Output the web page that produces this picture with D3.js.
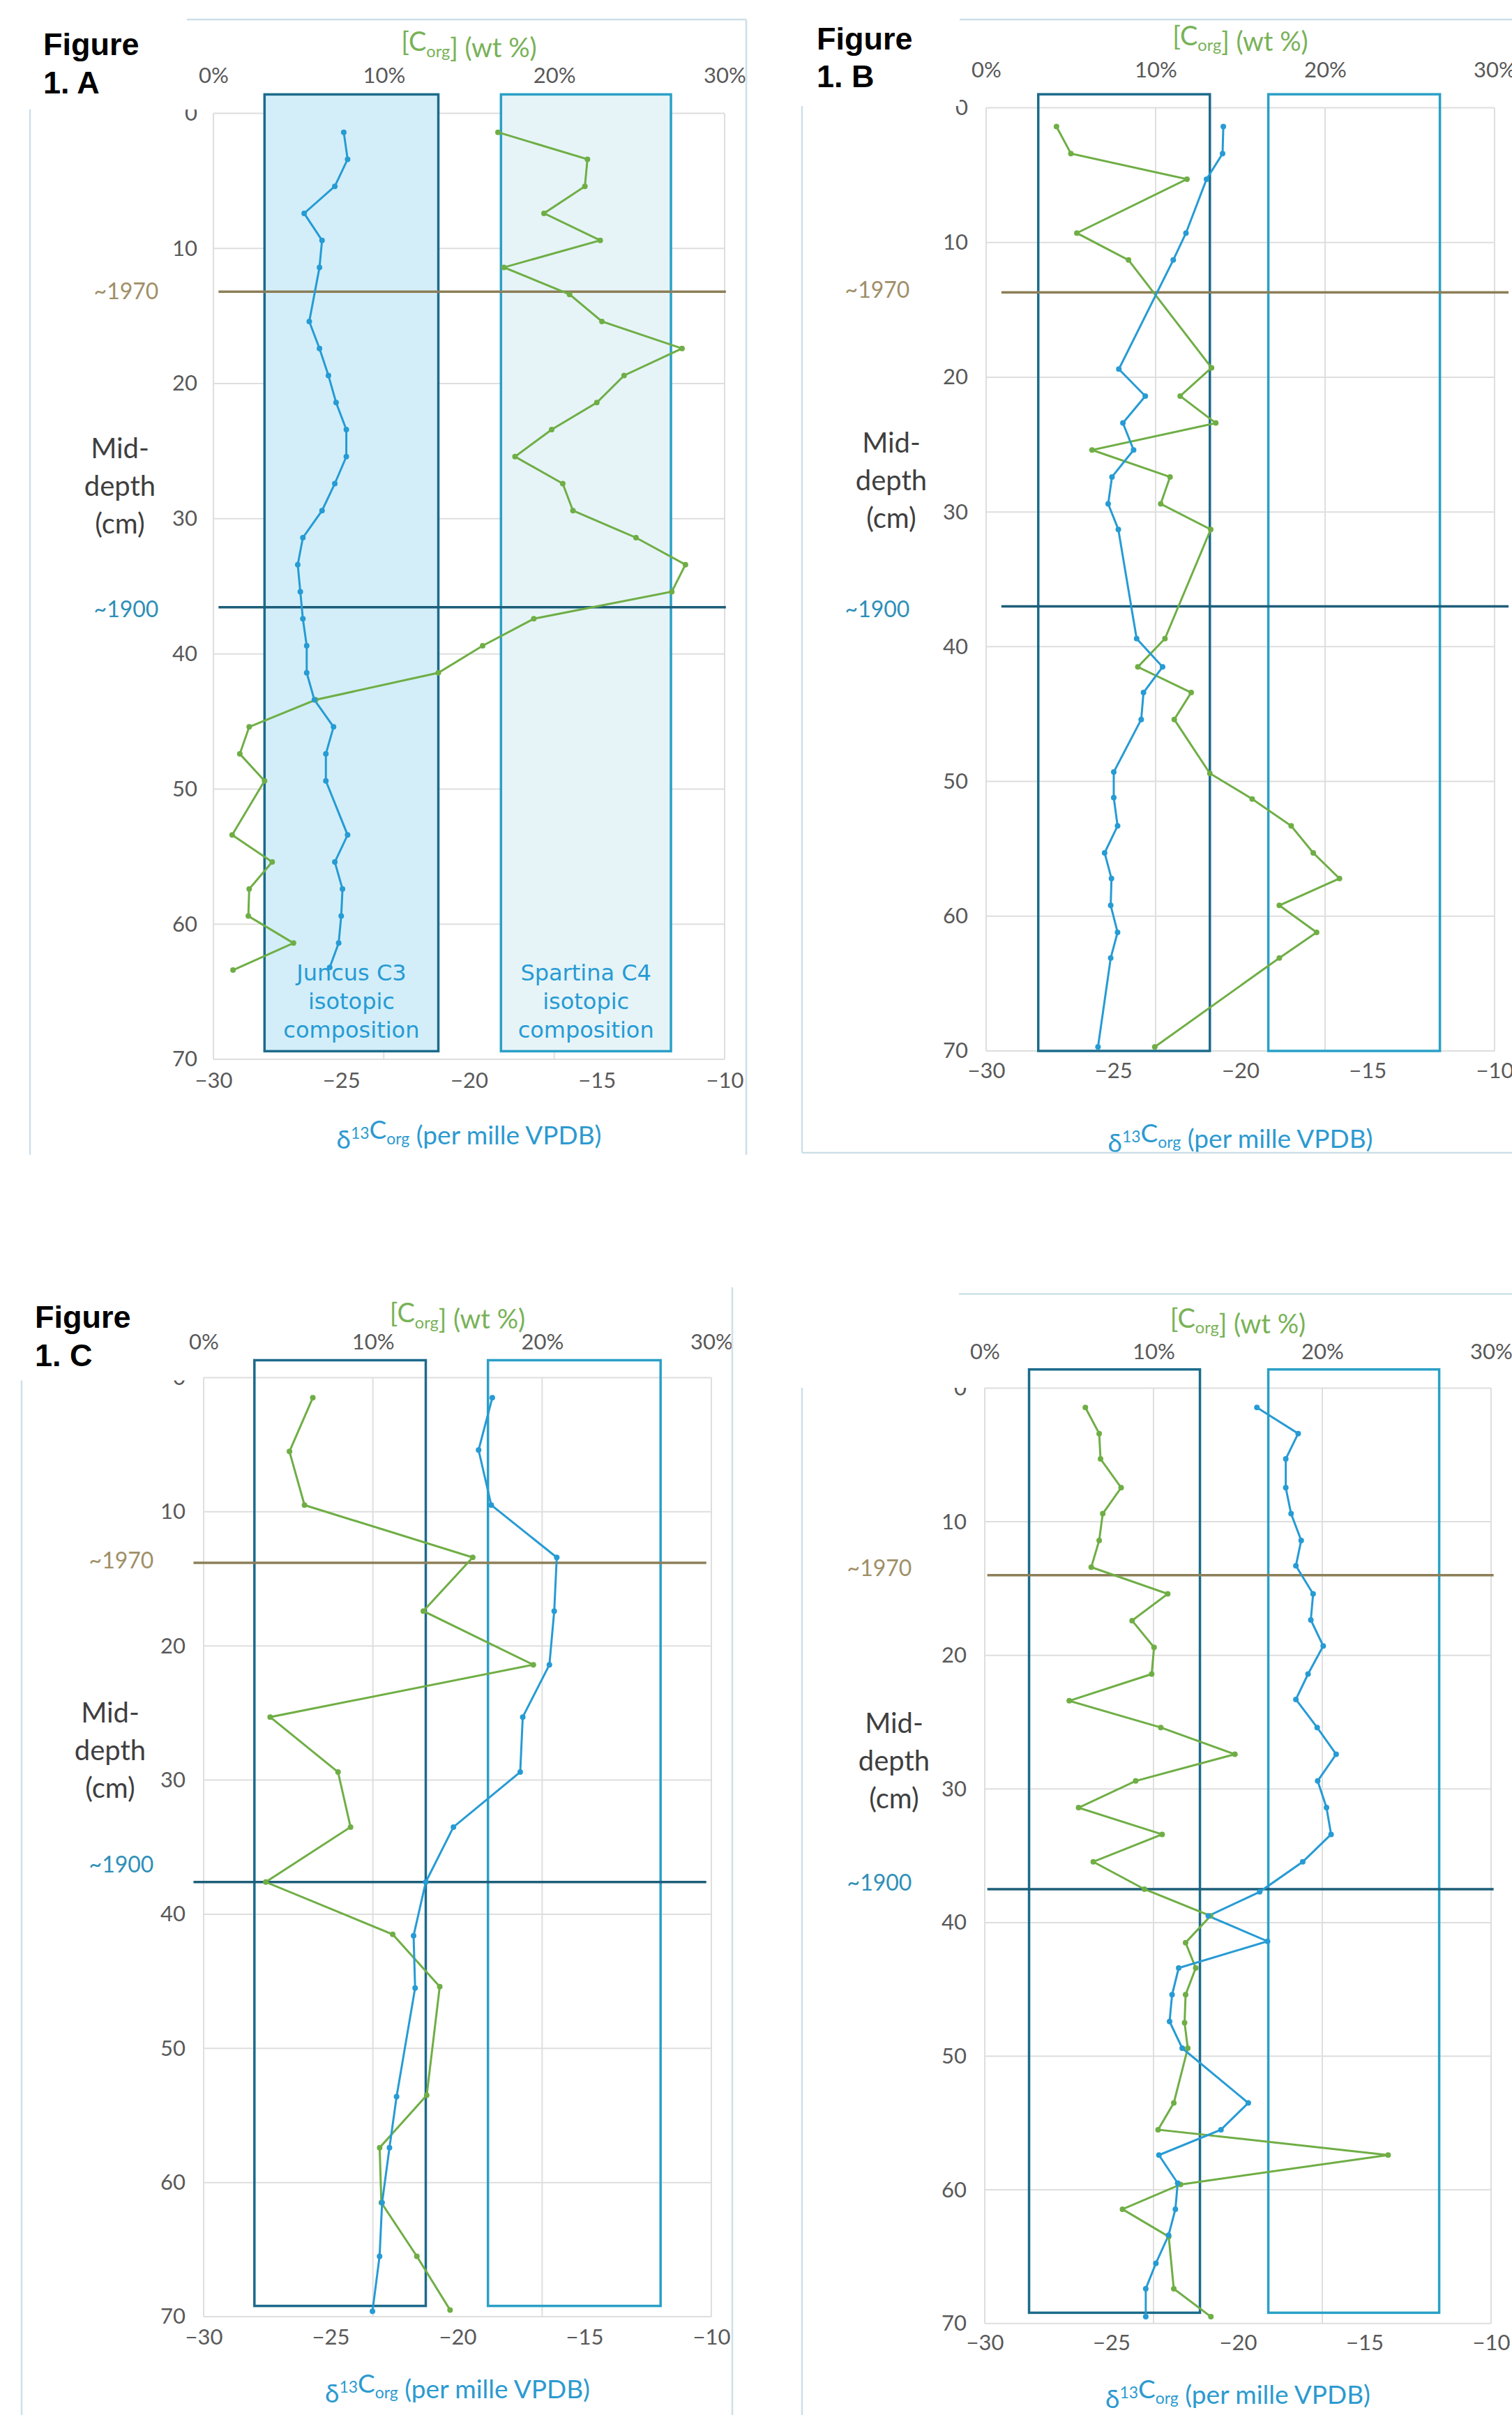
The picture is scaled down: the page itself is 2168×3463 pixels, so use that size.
<!DOCTYPE html>
<html><head><meta charset="utf-8">
<script src="https://cdn.jsdelivr.net/npm/d3@7"></script>
<style>html,body{margin:0;padding:0;background:#fff}</style>
</head><body>
<script>
// ---------- DATA ----------
const d13Ticks = [-30, -25, -20, -15, -10];
const corgTicks = [0, 10, 20, 30];
const corgTickLabels = ["0%", "10%", "20%", "30%"];
const depthTicks = [0, 10, 20, 30, 40, 50, 60, 70];
const dateLabels = ["~1970", "~1900"];

// Panel A
const depthA_d13C = [1.4,3.4,5.4,7.4,9.4,11.4,15.4,17.4,19.4,21.4,23.4,25.4,27.4,29.4,31.4,33.4,35.4,37.4,39.4,41.4,43.4,45.4,47.4,49.4,53.4,55.4,57.4,59.4,61.4,63.2];
const d13C_A = [-24.9,-24.75,-25.25,-26.45,-25.75,-25.85,-26.25,-25.85,-25.5,-25.2,-24.8,-24.8,-25.25,-25.75,-26.5,-26.7,-26.6,-26.5,-26.35,-26.35,-26.05,-25.3,-25.6,-25.6,-24.75,-25.25,-24.95,-25.0,-25.1,-25.45];
const depthA_corg = [1.4,3.4,5.4,7.4,9.4,11.4,13.4,15.4,17.4,19.4,21.4,23.4,25.4,27.4,29.4,31.4,33.4,35.4,37.4,39.4,41.4,43.4,45.4,47.4,49.4,53.4,55.4,57.4,59.4,61.4,63.4];
const corg_A = [16.7,21.95,21.8,19.4,22.7,17.05,20.9,22.8,27.5,24.1,22.5,19.85,17.7,20.5,21.1,24.8,27.7,26.9,18.8,15.8,13.2,6.0,2.1,1.55,3.0,1.1,3.45,2.1,2.05,4.7,1.15];

// Panel B
const depthB_d13C = [1.4,3.4,5.3,9.3,11.3,19.4,21.4,23.4,25.4,27.4,29.4,31.3,39.4,41.5,43.4,45.4,49.3,51.2,53.3,55.3,57.2,59.2,61.2,63.1,69.7];
const d13C_B = [-20.67,-20.7,-21.33,-22.14,-22.64,-24.78,-23.74,-24.62,-24.2,-25.05,-25.2,-24.8,-24.08,-23.06,-23.81,-23.9,-24.98,-24.98,-24.83,-25.34,-25.07,-25.1,-24.83,-25.1,-25.6];
const depthB_corg = [1.4,3.4,5.3,9.3,11.3,19.3,21.4,23.4,25.4,27.4,29.4,31.3,39.4,41.5,43.4,45.4,49.4,51.3,53.3,55.3,57.2,59.2,61.2,63.1,69.7];
const corg_B = [4.15,5.0,11.85,5.35,8.4,13.3,11.45,13.55,6.25,10.85,10.3,13.25,10.55,8.95,12.1,11.1,13.2,15.7,18.0,19.3,20.85,17.3,19.5,17.3,9.95];

// Panel C
const depthC_d13C = [1.5,5.4,9.5,13.4,17.4,21.4,25.3,29.4,33.5,37.6,41.6,45.5,53.6,57.4,61.5,65.5,69.6];
const d13C_C = [-18.63,-19.17,-18.67,-16.09,-16.19,-16.38,-17.43,-17.53,-20.16,-21.25,-21.73,-21.67,-22.4,-22.68,-22.97,-23.07,-23.35];
const depthC_corg = [1.5,5.5,9.5,13.4,17.4,21.4,25.3,29.4,33.5,37.6,41.5,45.4,53.5,57.4,61.5,65.5,69.5];
const corg_C = [6.45,5.07,5.96,15.9,12.98,19.48,3.93,7.94,8.68,3.67,11.17,13.95,13.18,10.4,10.5,12.6,14.56];

// Panel D
const depthD_d13C = [1.45,3.4,5.3,7.45,9.4,11.4,13.3,15.4,17.35,19.3,21.4,23.3,25.4,27.4,29.4,31.4,33.4,35.45,37.7,39.5,41.4,43.4,45.4,47.4,49.4,53.5,55.5,57.4,59.5,61.45,63.4,65.5,67.4,69.5];
const d13C_D = [-19.25,-17.62,-18.11,-18.11,-17.9,-17.5,-17.71,-17.03,-17.12,-16.63,-17.23,-17.71,-16.87,-16.12,-16.85,-16.5,-16.32,-17.44,-19.14,-21.17,-18.83,-22.34,-22.6,-22.7,-22.2,-19.59,-20.67,-23.12,-22.38,-22.47,-22.74,-23.24,-23.64,-23.64];
const depthD_corg = [1.45,3.4,5.3,7.45,9.4,11.4,13.4,15.4,17.4,19.4,21.4,23.4,25.4,27.4,29.4,31.4,33.4,35.45,37.5,39.5,41.5,43.4,45.4,47.5,49.4,53.5,55.5,57.4,59.6,61.45,63.5,67.4,69.5];
const corg_D = [5.96,6.78,6.86,8.08,6.99,6.78,6.31,10.84,8.73,10.03,9.89,5.01,10.43,14.82,8.94,5.56,10.51,6.43,9.46,13.38,11.9,12.5,11.9,11.84,12.03,11.2,10.27,23.9,11.6,8.16,10.9,11.2,13.4];

// isotopic composition ranges (d13C) and their depth extent, per panel A,B,C,D
const c3Range = [[-28.0,-21.2],[-27.95,-21.2],[-28.0,-21.25],[-28.25,-21.5]];
const c4Range = [[-18.75,-12.1],[-18.9,-12.15],[-18.8,-12.0],[-18.8,-12.05]];
const boxDepth = [[-1.4,69.4],[-1.0,70],[-1.3,69.2],[-1.4,69.2]];
// date horizons (depth, cm)
const depth1970 = [13.2, 13.7, 13.8, 14.0];
const depth1900 = [36.55, 37.0, 37.6, 37.5];

// ---------- LAYOUT ----------
const W = 2168, H = 3463;
const panels = [
  {key:"A", x0:306, x1:1039, y0:162.5, y70:1519, yTickX:283, topTickY:108, topTitleY:60, botTickY:1549, botTitleY:1634,
   dateX:181, d70dy:0, d00dy:3, midX:172, lineExt:[-29.8,-9.95], filled:true,
   label:{x:62, y1:79, y2:134, txt:"1. A"}, cover:[0,0,285,157],
   borders:[[268,28,1070,28],[43,157,43,1656],[1070,28,1070,1656]]},
  {key:"B", x0:1414, x1:2143, y0:154.5, y70:1507, yTickX:1388, topTickY:100, topTitleY:51.5, botTickY:1535, botTitleY:1639,
   dateX:1258, d70dy:-3, d00dy:4, midX:1278, lineExt:[-29.4,-9.45], filled:false,
   label:{x:1171, y1:71, y2:125, txt:"1. B"}, cover:[1140,0,1376,152],
   borders:[[1376,28,2168,28],[1150,152,1150,1653],[1150,1653,2168,1653]]},
  {key:"C", x0:292, x1:1020, y0:1975.5, y70:3322, yTickX:266, topTickY:1924.6, topTitleY:1883, botTickY:3351, botTitleY:3432,
   dateX:174, d70dy:-3, d00dy:-25, midX:158, lineExt:[-30.4,-10.2], filled:false,
   label:{x:50, y1:1904, y2:1959, txt:"1. C"}, cover:[0,1945,280,1979.5],
   borders:[[31,1979.5,31,3463],[1050,1846,1050,3463]]},
  {key:"D", x0:1412, x1:2138, y0:1990.5, y70:3331.7, yTickX:1386, topTickY:1937.7, topTitleY:1890.6, botTickY:3359.5, botTitleY:3440,
   dateX:1261, d70dy:-10, d00dy:-9, midX:1282, lineExt:[-29.9,-9.9], filled:false,
   label:null, cover:[1140,1958,1395,1990],
   borders:[[1375,1855.6,2168,1855.6],[1150,1990,1150,3463]]}
];
const series = [
  {d13d:depthA_d13C, d13v:d13C_A, cd:depthA_corg, cv:corg_A},
  {d13d:depthB_d13C, d13v:d13C_B, cd:depthB_corg, cv:corg_B},
  {d13d:depthC_d13C, d13v:d13C_C, cd:depthC_corg, cv:corg_C},
  {d13d:depthD_d13C, d13v:d13C_D, cd:depthD_corg, cv:corg_D}
];

const COL = {
  green:"#6fae45", blue:"#269bd4", grid:"#dedede", tick:"#595959",
  c3Stroke:"#1c6b8b", c4Stroke:"#2aa0c6", c3Fill:"#d3eef9", c4Fill:"#e6f4f8",
  l1970:"#8c7e57", t1970:"#a08f68", l1900:"#1d5e79", t1900:"#2e8fb8",
  topTitle:"#78b257", botTitle:"#2c9ad0", mid:"#3f3f3f", border:"#cde0e7"
};
const FONT = "Lato, 'Open Sans', sans-serif";

const svg = d3.select("body").append("svg").attr("width", W).attr("height", H)
  .style("display","block").style("background","#fff");

function richText(sel, parts, fs) {
  parts.forEach(p => {
    if (p.s === "sub") {
      sel.append("tspan").attr("dy", 0.22*fs).attr("font-size", 0.62*fs).text(p.t);
      sel.append("tspan").attr("dy", -0.22*fs).text("");
    } else if (p.s === "sup") {
      sel.append("tspan").attr("dy", -0.38*fs).attr("font-size", 0.62*fs).text(p.t);
      sel.append("tspan").attr("dy", 0.38*fs).text("");
    } else sel.append("tspan").text(p.t);
  });
}

panels.forEach((p, i) => {
  const s = series[i];
  const g = svg.append("g");
  const x = d3.scaleLinear().domain([-30, -10]).range([p.x0, p.x1]);
  const xc = d3.scaleLinear().domain([0, 30]).range([p.x0, p.x1]);
  const y = d3.scaleLinear().domain([0, 70]).range([p.y0, p.y70]);

  // gridlines
  g.selectAll(".vg").data(corgTicks).join("line")
    .attr("x1", d => xc(d)).attr("x2", d => xc(d)).attr("y1", y(0)).attr("y2", y(70))
    .attr("stroke", COL.grid).attr("stroke-width", 2);
  g.selectAll(".hg").data(depthTicks).join("line")
    .attr("x1", p.x0).attr("x2", p.x1).attr("y1", d => y(d)).attr("y2", d => y(d))
    .attr("stroke", COL.grid).attr("stroke-width", 2);

  // isotopic boxes
  const bd = boxDepth[i];
  [[c3Range[i], COL.c3Stroke, COL.c3Fill], [c4Range[i], COL.c4Stroke, COL.c4Fill]].forEach(([r, st, fi]) => {
    g.append("rect").attr("x", x(r[0])).attr("y", y(bd[0]))
      .attr("width", x(r[1]) - x(r[0])).attr("height", y(bd[1]) - y(bd[0]))
      .attr("fill", p.filled ? fi : "none").attr("stroke", st).attr("stroke-width", 3.5);
  });
  if (p.filled) {
    const fs = 32;
    [[c3Range[i], ["Juncus C3","isotopic","composition"]], [c4Range[i], ["Spartina C4","isotopic","composition"]]].forEach(([r, lines]) => {
      const cx = (x(r[0]) + x(r[1])) / 2;
      lines.forEach((t, k) => {
        g.append("text").attr("x", cx).attr("y", 1395 + k*41).attr("dy", "0.35em")
          .attr("text-anchor", "middle").attr("font-family", "'DejaVu Sans', sans-serif")
          .attr("font-size", fs).attr("fill", COL.blue).text(t);
      });
    });
  }

  // date horizons
  g.append("line").attr("x1", x(p.lineExt[0])).attr("x2", x(p.lineExt[1]))
    .attr("y1", y(depth1970[i])).attr("y2", y(depth1970[i]))
    .attr("stroke", COL.l1970).attr("stroke-width", 3.5);
  g.append("line").attr("x1", x(p.lineExt[0])).attr("x2", x(p.lineExt[1]))
    .attr("y1", y(depth1900[i])).attr("y2", y(depth1900[i]))
    .attr("stroke", COL.l1900).attr("stroke-width", 3.5);
  g.append("text").attr("x", p.dateX).attr("y", y(depth1970[i]) + p.d70dy).attr("dy", "0.35em")
    .attr("text-anchor", "middle").attr("font-family", FONT).attr("font-size", 32)
    .attr("fill", COL.t1970).text(dateLabels[0]);
  g.append("text").attr("x", p.dateX).attr("y", y(depth1900[i]) + p.d00dy).attr("dy", "0.35em")
    .attr("text-anchor", "middle").attr("font-family", FONT).attr("font-size", 32)
    .attr("fill", COL.t1900).text(dateLabels[1]);

  // series
  const d13 = s.d13d.map((d, k) => ({d, v: s.d13v[k]}));
  const cg = s.cd.map((d, k) => ({d, v: s.cv[k]}));
  const lineB = d3.line().x(d => x(d.v)).y(d => y(d.d));
  const lineG = d3.line().x(d => xc(d.v)).y(d => y(d.d));
  g.append("path").datum(cg).attr("d", lineG).attr("fill", "none").attr("stroke", COL.green).attr("stroke-width", 3);
  g.append("path").datum(d13).attr("d", lineB).attr("fill", "none").attr("stroke", COL.blue).attr("stroke-width", 3);
  g.selectAll(".mg").data(cg).join("circle").attr("cx", d => xc(d.v)).attr("cy", d => y(d.d)).attr("r", 4).attr("fill", COL.green);
  g.selectAll(".mb").data(d13).join("circle").attr("cx", d => x(d.v)).attr("cy", d => y(d.d)).attr("r", 4).attr("fill", COL.blue);

  // axes
  const ay = g.append("g").attr("transform", `translate(${p.yTickX},0)`)
    .call(d3.axisLeft(y).tickValues(depthTicks).tickSize(0).tickPadding(0).tickFormat(d3.format("d")));
  const at = g.append("g").attr("transform", `translate(0,${p.topTickY})`)
    .call(d3.axisTop(xc).tickValues(corgTicks).tickSize(0).tickPadding(0).tickFormat((d, k) => corgTickLabels[k]));
  const ab = g.append("g").attr("transform", `translate(0,${p.botTickY})`)
    .call(d3.axisBottom(x).tickValues(d13Ticks).tickSize(0).tickPadding(0).tickFormat(d3.format("d")));
  [ay, at, ab].forEach(a => {
    a.select(".domain").remove();
    a.selectAll("text").attr("font-family", FONT).attr("font-size", 31).attr("fill", COL.tick);
  });
  at.selectAll("text").attr("y", 0).attr("dy", "0.35em");
  ab.selectAll("text").attr("y", 0).attr("dy", "0.35em");

  // axis titles
  const tt = g.append("text").attr("x", (p.x0 + p.x1) / 2).attr("y", p.topTitleY).attr("dy", "0.35em")
    .attr("text-anchor", "middle").attr("font-family", FONT).attr("font-size", 38).attr("fill", COL.topTitle);
  richText(tt, [{t:"[C"}, {t:"org", s:"sub"}, {t:"] (wt %)"}], 38);
  const bt = g.append("text").attr("x", (p.x0 + p.x1) / 2).attr("y", p.botTitleY).attr("dy", "0.35em")
    .attr("text-anchor", "middle").attr("font-family", FONT).attr("font-size", 37).attr("fill", COL.botTitle);
  richText(bt, [{t:"δ"}, {t:"13", s:"sup"}, {t:"C"}, {t:"org", s:"sub"}, {t:" (per mille VPDB)"}], 37);

  // y title
  ["Mid-", "depth", "(cm)"].forEach((t, k) => {
    g.append("text").attr("x", p.midX).attr("y", p.y0 + 480 + k*54).attr("dy", "0.35em")
      .attr("text-anchor", "middle").attr("font-family", FONT).attr("font-size", 40).attr("fill", COL.mid).text(t);
  });

  // white label cover + chart borders
  const c = p.cover;
  g.append("rect").attr("x", c[0]).attr("y", c[1]).attr("width", c[2]-c[0]).attr("height", c[3]-c[1]).attr("fill", "#fff");
  p.borders.forEach(b => {
    g.append("line").attr("x1", b[0]).attr("y1", b[1]).attr("x2", b[2]).attr("y2", b[3])
      .attr("stroke", COL.border).attr("stroke-width", 2.5);
  });
  if (p.label) {
    [["Figure", p.label.y1], [p.label.txt, p.label.y2]].forEach(([t, yy]) => {
      g.append("text").attr("x", p.label.x).attr("y", yy)
        .attr("font-family", "'Liberation Sans', Arial, sans-serif").attr("font-weight", "bold")
        .attr("font-size", 45).attr("fill", "#000").text(t);
    });
  }
});
</script>
</body></html>
